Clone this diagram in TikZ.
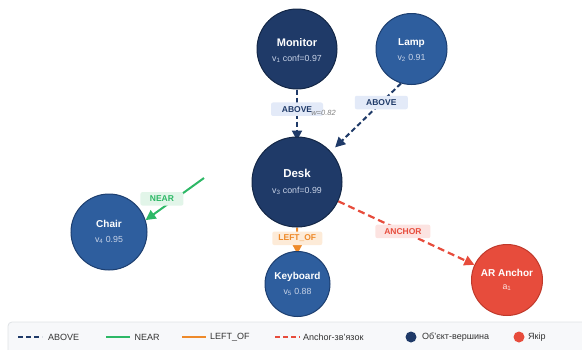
\documentclass[tikz,border=0pt]{standalone}
\usepackage{fontspec}
\setmainfont{Liberation Sans}
\usetikzlibrary{arrows.meta}
\pgfdeclarelayer{edgelayer}
\pgfsetlayers{edgelayer,main}

\definecolor{navy}{HTML}{1F3A68}
\definecolor{navyrim}{HTML}{132747}
\definecolor{midblue}{HTML}{2E5E9E}
\definecolor{midrim}{HTML}{1D3F70}
\definecolor{ancred}{HTML}{E74C3C}
\definecolor{ancrim}{HTML}{C0392B}
\definecolor{nearc}{HTML}{2DB866}
\definecolor{leftc}{HTML}{EE8A2A}
\definecolor{abovebg}{HTML}{E3EAF8}
\definecolor{nearbg}{HTML}{E2F5E9}
\definecolor{leftbg}{HTML}{FDEBD8}
\definecolor{ancbg}{HTML}{FCE3E1}
\definecolor{subtxt}{HTML}{C9D4E8}
\definecolor{legbg}{HTML}{F7F8FA}
\definecolor{legrim}{HTML}{DFE2E6}
\definecolor{legtxt}{HTML}{333333}

\tikzset{
  vert/.style={circle, line width=1pt, inner sep=0pt},
  objnode/.style={vert, fill=navy, draw=navyrim},
  leafnode/.style={vert, fill=midblue, draw=midrim},
  anchornode/.style={vert, fill=ancred, draw=ancrim},
  ttl/.style={text=white, inner sep=0pt, font=\fontsize{#1}{#1}\selectfont\bfseries},
  ttl/.default=10,
  sub/.style={text=subtxt, inner sep=0pt, font=\fontsize{8.8}{9}\selectfont},
  tag/.style={rounded corners=2pt, inner sep=0pt, minimum height=13.5pt,
    font=\fontsize{8.5}{9}\selectfont\bfseries},
  tip/.style={-{Triangle[length=10pt,width=10pt]}},
  aboveedge/.style={tip, draw=navy, line width=2pt, dash pattern=on 5pt off 3pt},
  nearedge/.style={tip, draw=nearc, line width=2pt},
  leftedge/.style={tip, draw=leftc, line width=2pt},
  ancedge/.style={tip, draw=ancred, line width=2.2pt, dash pattern=on 7pt off 4pt},
  legtext/.style={text=legtxt, anchor=west, inner sep=0pt, font=\fontsize{9}{10}\selectfont},
}

\begin{document}
\begin{tikzpicture}[x=1pt, y=-1pt]
\useasboundingbox (0,0) rectangle (582,349);
\clip (0,0) rectangle (582,349);

% vertices
\node[objnode, minimum size=80pt] (monitor) at (297,49) {};
\node[ttl=11] (monitor-t) at ([yshift=6pt]monitor.center) {Monitor};
\node[sub] (monitor-s) at ([yshift=-10pt]monitor.center) {v\textsubscript{1} conf=0.97};

\node[leafnode, minimum size=71pt] (lamp) at (411.5,49) {};
\node[ttl] (lamp-t) at ([yshift=6pt]lamp.center) {Lamp};
\node[sub] (lamp-s) at ([yshift=-9pt]lamp.center) {v\textsubscript{2} 0.91};

\node[objnode, minimum size=90pt] (desk) at (297,182) {};
\node[ttl=11.5] (desk-t) at ([yshift=9pt]desk.center) {Desk};
\node[sub] (desk-s) at ([yshift=-9pt]desk.center) {v\textsubscript{3} conf=0.99};

\node[leafnode, minimum size=76pt] (chair) at (109,232) {};
\node[ttl] (chair-t) at ([yshift=8pt]chair.center) {Chair};
\node[sub] (chair-s) at ([yshift=-8pt]chair.center) {v\textsubscript{4} 0.95};

\node[leafnode, minimum size=65pt] (keyboard) at (297.5,284) {};
\node[ttl] (keyboard-t) at ([yshift=7pt]keyboard.center) {Keyboard};
\node[sub] (keyboard-s) at ([yshift=-8pt]keyboard.center) {v\textsubscript{5} 0.88};

\node[anchornode, minimum size=71pt] (anchor) at (507,280) {};
\node[ttl] (anchor-t) at ([yshift=7pt]anchor.center) {AR Anchor};
\node[sub, text=white!85!ancred] (anchor-s) at ([yshift=-8pt]anchor.center) {a\textsubscript{1}};

\coordinate (nearstart) at (204,178);

% relations, kept beneath the vertices
\begin{pgfonlayer}{edgelayer}
\draw[aboveedge, shorten >=-4pt] (monitor) -- (desk)
  node[pos=0.42, tag, fill=abovebg, text=navy, minimum width=52pt] (lbl-above1) {ABOVE};
\node[text=gray, inner sep=0pt, font=\fontsize{7.5}{8}\selectfont\itshape] (w-above1)
  at (323.5,113) {w=0.82};
\draw[aboveedge, shorten >=6pt] (lamp.253) -- (desk.42)
  node[pos=0.28, tag, fill=abovebg, text=navy, minimum width=53pt] (lbl-above2) {ABOVE};
\draw[nearedge] (nearstart) -- (chair.18)
  node[pos=0.72, yshift=9.5pt, tag, fill=nearbg, text=nearc, minimum width=43pt] (lbl-near) {NEAR};
\draw[leftedge, shorten >=-3pt] (desk) -- (keyboard)
  node[pos=0.46, tag, fill=leftbg, text=leftc, minimum width=50pt] (lbl-left) {LEFT\_OF};
\draw[ancedge] (desk) -- (anchor)
  node[pos=0.475, tag, fill=ancbg, text=ancred, minimum width=55pt] (lbl-anc) {ANCHOR};
\end{pgfonlayer}

% legend
\draw[fill=legbg, draw=legrim, line width=0.8pt, rounded corners=4pt] (8,322) rectangle (600,365);
\coordinate (k1a) at (18,337); \coordinate (k1b) at (42,337);
\draw[draw=navy, line width=1.6pt, dash pattern=on 5pt off 3pt] (k1a) -- (k1b);
\node[legtext] (k1) at (48,337) {ABOVE};
\coordinate (k2a) at (106,337); \coordinate (k2b) at (130,337);
\draw[draw=nearc, line width=1.6pt] (k2a) -- (k2b);
\node[legtext] (k2) at (134.5,337) {NEAR};
\coordinate (k3a) at (182,337); \coordinate (k3b) at (206,337);
\draw[draw=leftc, line width=1.6pt] (k3a) -- (k3b);
\node[legtext] (k3) at (210,337) {LEFT\_OF};
\coordinate (k4a) at (275,337); \coordinate (k4b) at (300,337);
\draw[draw=ancred, line width=1.6pt, dash pattern=on 5pt off 3pt] (k4a) -- (k4b);
\node[legtext] (k4) at (303,337) {Anchor-зв'язок};
\node[circle, fill=navy, inner sep=0pt, minimum size=11pt] (k5dot) at (411,337) {};
\node[legtext] (k5) at (422,337) {Об'єкт-вершина};
\node[circle, fill=ancred, inner sep=0pt, minimum size=11pt] (k6dot) at (519,337) {};
\node[legtext] (k6) at (528,337) {Якір};
\end{tikzpicture}
\end{document}
